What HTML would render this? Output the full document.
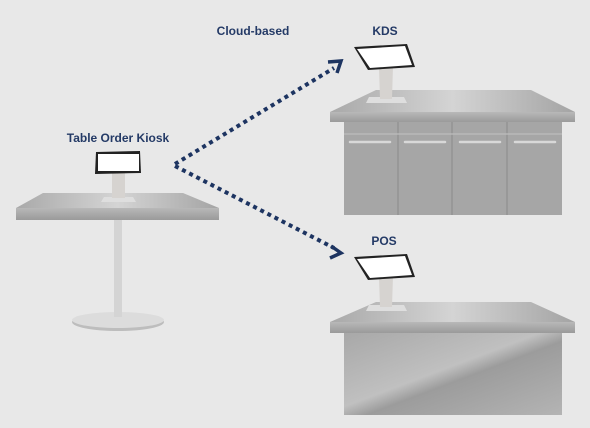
<!DOCTYPE html>
<html><head><meta charset="utf-8"><style>
html,body{margin:0;padding:0;background:#e8e8e8;}
svg{display:block}
text{font-family:"Liberation Sans",sans-serif;font-weight:bold;fill:#243a66;font-size:12px}
</style></head><body>
<svg width="590" height="428" viewBox="0 0 590 428" xmlns="http://www.w3.org/2000/svg">
<defs>
<linearGradient id="top" x1="0" y1="0" x2="1" y2="0">
<stop offset="0" stop-color="#a9a9a9"/><stop offset="0.5" stop-color="#d4d4d4"/><stop offset="1" stop-color="#a4a4a4"/></linearGradient>
<linearGradient id="band" x1="0" y1="0" x2="0" y2="1">
<stop offset="0" stop-color="#b8b8b8"/><stop offset="1" stop-color="#9a9a9a"/></linearGradient>
<linearGradient id="cab" x1="0" y1="0" x2="1" y2="1">
<stop offset="0" stop-color="#a8a8a8"/><stop offset="0.45" stop-color="#c0c0c0"/><stop offset="0.55" stop-color="#9c9c9c"/><stop offset="1" stop-color="#b4b4b4"/></linearGradient>
</defs>
<rect width="590" height="428" fill="#e8e8e8"/>

<text x="253" y="35" text-anchor="middle">Cloud-based</text>
<text x="385" y="35" text-anchor="middle">KDS</text>
<text x="118" y="142" text-anchor="middle">Table Order Kiosk</text>
<text x="384" y="245" text-anchor="middle">POS</text>

<!-- arrows -->
<g stroke="#1d3461" stroke-width="4" stroke-dasharray="4 4" fill="none">
<line x1="175" y1="164" x2="334" y2="68"/>
<line x1="175" y1="166" x2="334" y2="248"/>
</g>
<path d="M328,62 L341,61 L337,73" fill="none" stroke="#1d3461" stroke-width="3.5"/>
<path d="M331,246 L341,253 L330,258" fill="none" stroke="#1d3461" stroke-width="3.5"/>

<!-- KDS counter -->
<rect x="344" y="122" width="218" height="93" fill="#a6a6a6"/>
<g stroke="#8f8f8f" stroke-width="1.2">
<line x1="398" y1="122" x2="398" y2="215"/><line x1="452" y1="122" x2="452" y2="215"/><line x1="507" y1="122" x2="507" y2="215"/>
<line x1="344" y1="134" x2="562" y2="134" stroke="#bdbdbd"/>
</g>
<g stroke="#d8d8d8" stroke-width="2.5" stroke-linecap="round">
<line x1="350" y1="142" x2="390" y2="142"/><line x1="405" y1="142" x2="445" y2="142"/>
<line x1="460" y1="142" x2="500" y2="142"/><line x1="515" y1="142" x2="555" y2="142"/>
</g>
<polygon points="330,112 376,90 531,90 575,112" fill="url(#top)"/>
<rect x="330" y="112" width="245" height="10" fill="url(#band)"/>
<!-- KDS monitor -->
<polygon points="369,97 404,97 407,103 366,103" fill="#dedede"/>
<polygon points="379,68 393,66 392,99 380,99" fill="#d6d3d0"/>
<polygon points="354,47 407,44 415,67 368,70" fill="#222"/>
<polygon points="357,49 405,46 412,65 370,68" fill="#fff"/>

<!-- POS counter -->
<rect x="344" y="333" width="218" height="82" fill="url(#cab)"/>
<polygon points="330,322 376,302 531,302 575,322" fill="url(#top)"/>
<rect x="330" y="322" width="245" height="11" fill="url(#band)"/>
<polygon points="369,305 404,305 407,311 366,311" fill="#dedede"/>
<polygon points="379,278 393,276 392,307 380,307" fill="#d6d3d0"/>
<polygon points="354,257 407,254 415,277 368,280" fill="#222"/>
<polygon points="357,259 405,256 412,275 370,278" fill="#fff"/>

<!-- Table -->
<ellipse cx="118" cy="322" rx="46" ry="9" fill="#bdbdbd"/>
<ellipse cx="118" cy="320" rx="46" ry="8" fill="#dcdcdc"/>
<rect x="114" y="220" width="8" height="97" fill="#d4d4d4"/>
<polygon points="16,208 43,193 183,193 219,208" fill="url(#top)"/>
<rect x="16" y="208" width="203" height="12" fill="url(#band)"/>
<polygon points="104,197 133,197 136,202 101,202" fill="#dedede"/>
<rect x="112" y="173" width="13" height="25" fill="#d6d3d0"/>
<polygon points="96,152 140,151 141,173 95,174" fill="#222"/>
<rect x="98" y="154" width="41" height="17" fill="#fff"/>
</svg>
</body></html>
